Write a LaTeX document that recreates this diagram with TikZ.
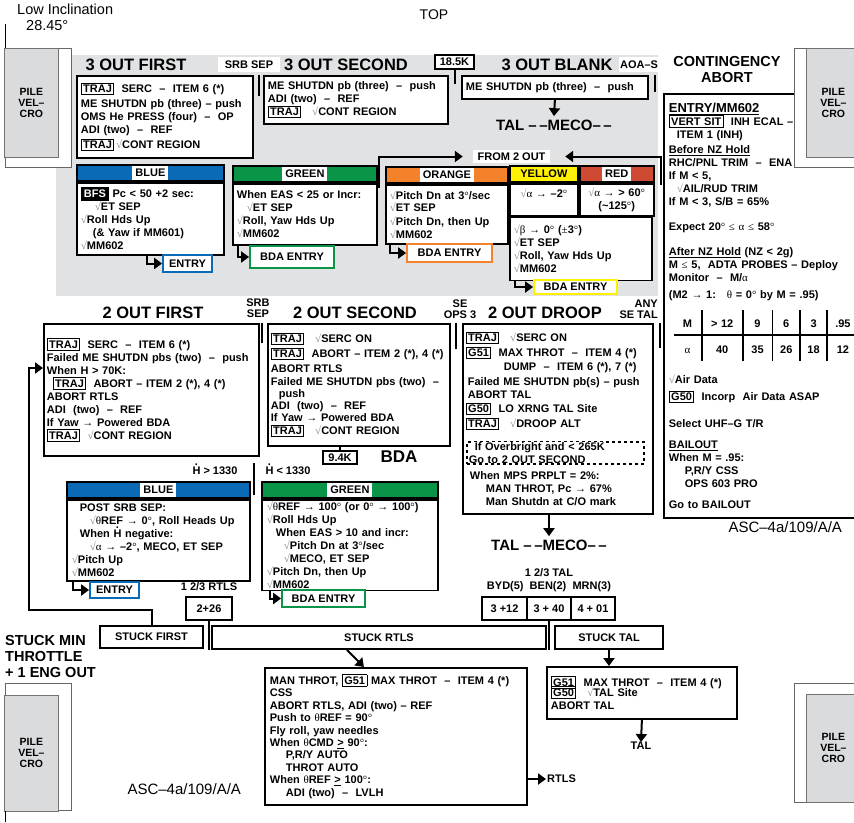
\documentclass[tikz,border=0pt]{standalone}
\usepackage{fontspec}
\setmainfont{Liberation Sans}
\newfontfamily\serf{Liberation Serif}
\usepackage{array}
\usetikzlibrary{arrows.meta,positioning}
\definecolor{bgC}{HTML}{E1E2E4}
\definecolor{blueC}{HTML}{0A6AB6}
\definecolor{greenC}{HTML}{0A9447}
\definecolor{orangeC}{HTML}{F4822A}
\definecolor{yellowC}{HTML}{FFF100}
\definecolor{redC}{HTML}{CF4A32}
\definecolor{velC}{HTML}{DADBDD}
\newcommand\tb[1]{{\setlength\fboxsep{1.5pt}\setlength\fboxrule{0.8pt}\fbox{#1}}}
\newcommand\ck{{\color{black!45}\serf\mdseries √}}
\newcommand\gk[1]{{\serf\mdseries #1}}
\newcommand\hdot{\leavevmode\rlap{\hspace{2.4pt}\raisebox{9pt}{.}}H}
\newcommand\wlab[1]{{\setlength\fboxsep{3pt}\colorbox{white}{#1}}}

\begin{document}
\begin{tikzpicture}[x=1pt,y=-1pt,
    body/.style={font=\bfseries\fontsize{11}{13}\selectfont},
    panel/.style={body,draw,line width=1.8pt,fill=white,anchor=north west,align=left,inner xsep=4pt,inner ysep=2pt},
    hdr/.style={body,draw,line width=1.8pt,anchor=north west,inner sep=0pt,minimum height=16pt},
    ttl/.style={font=\bfseries\fontsize{16.5}{18}\selectfont},
    tag/.style={body,inner sep=0pt},
    tagbox/.style={body,draw,line width=1.8pt,fill=white,inner sep=0pt},
    entbox/.style={body,draw=#1,line width=1.8pt,fill=white,inner sep=0pt},
    velo/.style={fill=velC,draw=black!55,line width=0.8pt,anchor=north west,align=center,font=\bfseries\fontsize{10.5}{11}\selectfont},
    velout/.style={draw=black!60,fill=white,line width=0.8pt},
    flow/.style={-{Triangle[length=8pt,width=11pt]},line width=2pt},
    sepline/.style={line width=2pt},
    dashbox/.style={body,draw,dash pattern=on 3pt off 3pt,line width=1.6pt,anchor=north west,align=left,inner xsep=2pt,inner ysep=0pt}]
\useasboundingbox (0,0) rectangle (854,822);

% grey band of the 3 out cases
\fill[bgC] (56,55) rectangle (658,296);

\node[anchor=north west,align=left,inner sep=0pt,font=\fontsize{14.5}{16}\selectfont] (incl) at (17,4) {Low Inclination\\\hspace*{9pt}28.45°};
\node[font=\fontsize{14}{16}\selectfont] (top) at (434,15) {TOP};

% 3 out
\node[ttl] (t3first) at (136,65) {3 OUT FIRST};
\node[ttl] (t3second) at (346,65) {3 OUT SECOND};
\node[ttl] (t3blank) at (557,65) {3 OUT BLANK};
\node[tag,fill=white,minimum width=62pt,minimum height=15pt] (srb1) at (249,64.5) {SRB SEP};
\node[tag,fill=white,minimum width=40pt,minimum height=15pt] (aoas) at (639,64.5) {AOA--S};
\node[tagbox,line width=1.4pt,minimum width=39pt,minimum height=14pt] (k185) at (454.5,62) {18.5K};

\node[panel,text width=168pt,minimum height=82pt] (p3first) at (76,75)
  {\tb{TRAJ}\ \ SERC\ \ –\ \ ITEM 6 (*)\\[2pt]
   ME SHUTDN pb (three) – push\\
   OMS He PRESS (four)\ \ –\ \ OP\\
   ADI (two)\ \ –\ \ REF\\[2pt]
   \tb{TRAJ}\,\ck CONT REGION};
\node[panel,text width=176pt,minimum height=48pt] (p3second) at (263,75)
  {ME SHUTDN pb (three)\ \ –\ \ push\\
   ADI (two)\ \ –\ \ REF\\
   \tb{TRAJ}\ \ \ \ck CONT REGION};
\node[panel,text width=178pt,minimum height=23pt] (p3blank) at (461,75)
  {ME SHUTDN pb (three)\ \ –\ \ push};
\node[font=\bfseries\fontsize{15}{17}\selectfont] (meco1) at (554,125) {TAL –\,–MECO–\,–};

\draw[sepline] ([xshift=5pt]p3first.north east) -- ++(0,21);
\draw[sepline] (k185.south) -- ++(0,14);
\draw[sepline] ([xshift=6pt]p3blank.north east) -- ++(0,17);
\draw[flow] (p3blank.south) -- (meco1.north);

% colour boxes
\node[hdr,fill=blueC,minimum width=147pt] (b1h) at (76,164) {\wlab{BLUE}};
\node[panel,text width=139pt,minimum height=72pt] (b1) at (b1h.south west)
  {\colorbox{black}{\color{white}BFS}\ Pc < 50 +2 sec:\\
   \hspace*{14pt}\ck ET SEP\\
   \ck Roll Hds Up\\
   \hspace*{12pt}(\& Yaw if MM601)\\
   \ck MM602};
\node[entbox=blueC,minimum width=49pt,minimum height=17pt] (ent1) at (187.5,263.5) {ENTRY};
\draw[flow] ([xshift=71pt]b1.south west) |- (ent1.west);

\node[hdr,fill=greenC,minimum width=144pt] (g1h) at (232,165) {\wlab{GREEN}};
\node[panel,text width=136pt,minimum height=61pt] (g1) at (g1h.south west)
  {When EAS < 25 or Incr:\\
   \hspace*{10pt}\ck ET SEP\\
   \ck Roll, Yaw Hds Up\\
   \ck MM602};
\node[entbox=greenC,minimum width=84pt,minimum height=22pt] (bda1) at (292,257) {BDA ENTRY};
\draw[flow] ([xshift=6pt]g1.south west) |- (bda1.west);

\node[hdr,fill=orangeC,minimum width=122pt] (oh) at (385,166) {\wlab{ORANGE}};
\node[panel,text width=114pt,minimum height=59pt] (o1) at (oh.south west)
  {\ck Pitch Dn at 3\gk{°}/sec\\
   \ck ET SEP\\
   \ck Pitch Dn, then Up\\
   \ck MM602};
\node[entbox=orangeC,minimum width=85pt,minimum height=18pt] (bda2) at (449.5,253) {BDA ENTRY};
\draw[flow] ([xshift=5pt]o1.south west) |- (bda2.west);

\node[hdr,fill=yellowC,minimum width=68pt] (yh) at (509,165) {YELLOW};
\node[hdr,fill=redC,minimum width=74pt] (rh) at (yh.north east) {\wlab{RED}};
\node[panel,align=center,text width=60pt,minimum height=32pt] (yc) at (yh.south west)
  {\ck\gk{α →} –2\gk{°}\\\mbox{}};
\node[panel,align=center,text width=66pt,minimum height=32pt] (rc) at (rh.south west)
  {\ck\gk{α →} > 60\gk{°}\\(\textasciitilde125\gk{°})};
\node[panel,text width=134pt,minimum height=63pt] (yl) at (yc.south west)
  {\ck\gk{β →} 0\gk{°} (\gk{±}3\gk{°})\\
   \ck ET SEP\\
   \ck Roll, Yaw Hds Up\\
   \ck MM602};
\node[entbox=yellowC,minimum width=83pt,minimum height=14pt] (bda3) at (575.5,287) {BDA ENTRY};
\draw[flow] ([xshift=6pt]yl.south west) |- (bda3.west);

\node[tag,fill=white,minimum width=77pt,minimum height=13pt] (from2) at (511.5,156.5) {FROM 2 OUT};
\draw[flow] ([xshift=-6pt,yshift=-22pt]oh.north west) |- ([xshift=-10pt]from2.west);
\draw[flow] ([xshift=6pt,yshift=-20pt]rh.north east) |- ([xshift=15pt]from2.east);

% contingency abort
\node[font=\bfseries\fontsize{14.5}{16}\selectfont,align=center] (conttl) at (727,70) {CONTINGENCY\\ABORT};
\node[panel,text width=185pt,minimum height=424pt,inner xsep=5pt] (cont) at (663,93)
  {{\fontsize{13}{15}\selectfont\underline{ENTRY/MM602}}\\
   \tb{VERT SIT}\ \ INH ECAL –\\
   \hspace*{8pt}ITEM 1 (INH)\\[2pt]
   \underline{Before NZ Hold}\\
   RHC/PNL TRIM\ \ –\ \ ENA\\
   If M < 5,\\
   \hspace*{8pt}\ck AIL/RUD TRIM\\
   If M < 3, S/B = 65\%\\[12pt]
   Expect 20\gk{° ≤ α ≤} 58\gk{°}\\[12pt]
   \underline{After NZ Hold} (NZ < 2g)\\
   M \gk{≤} 5,\ \ ADTA PROBES – Deploy\\
   Monitor\ \ –\ \ M/\gk{α}\\[4pt]
   (M2 \gk{→} 1:\ \ \ \gk{θ} = 0\gk{°} by M = .95)\\[8pt]
   \hspace*{5pt}{\setlength\arrayrulewidth{1.8pt}\setlength\tabcolsep{0pt}\renewcommand\arraystretch{1.9}%
   \begin{tabular}{@{}w{c}{27pt}|w{c}{39pt}|w{c}{28pt}|w{c}{26pt}|w{c}{25pt}|w{c}{30pt}@{}}
   M & > 12 & 9 & 6 & 3 & .95\\\hline
   \gk{α} & 40 & 35 & 26 & 18 & 12
   \end{tabular}}\\[13pt]
   \ck Air Data\\[4pt]
   \tb{G50}\ \ Incorp\ \ Air Data ASAP\\[14pt]
   Select UHF–G T/R\\[8pt]
   \underline{BAILOUT}\\
   When M = .95:\\
   \hspace*{16pt}P,R/Y CSS\\
   \hspace*{16pt}OPS 603 PRO\\[8pt]
   Go to BAILOUT};
\node[anchor=west,font=\fontsize{15}{17}\selectfont] (asc1) at (725,527) {ASC–4a/109/A/A};

% velcro pads
\draw[velout] (5,48) rectangle (71,167);
\node[velo,minimum width=54pt,minimum height=109pt] (velTL) at (4,48) {PILE\\VEL--\\CRO};
\draw[line width=0.8pt] (5,24) -- (5,48);
\draw[velout] (794,48) rectangle (870,167);
\node[velo,minimum width=54pt,minimum height=109pt] (velTR) at (806,48) {PILE\\VEL--\\CRO};
\draw[velout] (5,683) rectangle (71,810);
\node[velo,minimum width=54pt,minimum height=116pt] (velBL) at (4,695) {PILE\\VEL--\\CRO};
\draw[line width=0.8pt] (5,811) -- (5,822);
\draw[velout] (794,683) rectangle (870,802);
\node[velo,minimum width=54pt,minimum height=108pt] (velBR) at (806,694) {PILE\\VEL--\\CRO};

% 2 out
\node[ttl] (t2first) at (153,313) {2 OUT FIRST};
\node[ttl] (t2second) at (355,313) {2 OUT SECOND};
\node[ttl] (t2droop) at (545,313) {2 OUT DROOP};
\node[tag,align=center,font=\bfseries\fontsize{11}{11}\selectfont] (srb2) at (258,308) {SRB\\SEP};
\node[tag,align=center,font=\bfseries\fontsize{11}{11}\selectfont] (seops) at (460,309) {SE\\OPS 3};
\node[tag,align=right,anchor=east,font=\bfseries\fontsize{11}{11}\selectfont] (anyse) at (658,309) {ANY\\SE TAL};

\node[panel,text width=209pt,inner xsep=3pt,minimum height=132pt] (p4) at (43,323)
  {\tb{TRAJ}\ \ SERC\ \ –\ \ ITEM 6 (*)\\
   Failed ME SHUTDN pbs (two)\ \ –\ \ push\\
   When H > 70K:\\
   \hspace*{6pt}\tb{TRAJ}\ \ ABORT – ITEM 2 (*), 4 (*)\\
   ABORT RTLS\\
   ADI\ \ (two)\ \ –\ \ REF\\
   If Yaw \gk{→} Powered BDA\\
   \tb{TRAJ}\ \ \ck CONT REGION};
\node[panel,text width=176pt,inner xsep=3pt,minimum height=122pt] (p5) at (267,323)
  {\tb{TRAJ}\ \ \ \ck SERC ON\\[2pt]
   \tb{TRAJ}\ \ ABORT – ITEM 2 (*), 4 (*)\\[2pt]
   ABORT RTLS\\
   Failed ME SHUTDN pbs (two)\ \ –\\[-1pt]
   \hspace*{8pt}push\\[-1pt]
   ADI\ \ (two)\ \ –\ \ REF\\[-1pt]
   If Yaw \gk{→} Powered BDA\\
   \tb{TRAJ}\ \ \ \ck CONT REGION};
\node[panel,text width=184pt,inner xsep=3pt,minimum height=190pt] (p6) at (462,323)
  {\tb{TRAJ}\ \ \ \ck SERC ON\\[2pt]
   \tb{G51}\ \ MAX THROT\ \ –\ \ ITEM 4 (*)\\[1pt]
   \hspace*{38pt}DUMP\ \ –\ \ ITEM 6 (*), 7 (*)\\[2pt]
   \hspace*{2pt}Failed ME SHUTDN pb(s)\ –\ push\\
   \hspace*{2pt}ABORT TAL\\[1pt]
   \tb{G50}\ \ LO XRNG TAL Site\\[2pt]
   \tb{TRAJ}\ \ \ \ck DROOP ALT\\[39pt]
   \hspace*{4pt}When MPS PRPLT = 2\%:\\
   \hspace*{20pt}MAN THROT, Pc \gk{→} 67\%\\
   \hspace*{20pt}Man Shutdn at C/O mark};
\node[dashbox,text width=173pt] (ovb) at (466,441)
  {\hspace*{5pt}{\setlength\fboxsep{1pt}\colorbox{white}{If Overbright and < 265K}}\\Go to 2 OUT SECOND};
\node[font=\bfseries\fontsize{15}{17}\selectfont] (meco2) at (549,545) {TAL –\,–MECO–\,–};
\node[tagbox,line width=1.4pt,minimum width=34pt,minimum height=13pt] (k94) at (340,457.5) {9.4K};
\node[font=\bfseries\fontsize{17}{19}\selectfont] (bda) at (399,457) {BDA};

\draw[sepline] ([xshift=-5pt]p5.north west) -- ++(0,20);
\draw[sepline] ([xshift=5pt]p5.north east) -- ++(0,26);
\draw[sepline] ([xshift=6pt]p6.north east) -- ++(0,25);
\draw[sepline] (p5.south -| k94) -- (k94.north);
\draw[flow] (p6.south -| meco2.north) -- (meco2.north);

% after SRB sep
\node[tag] (hgt) at (215,469) {\hdot\ > 1330};
\node[tag] (hlt) at (288,469) {\hdot\ < 1330};

\node[hdr,fill=blueC,minimum width=183pt] (b2h) at (66,481) {\wlab{BLUE}};
\node[panel,text width=173pt,inner xsep=5pt,minimum height=81pt] (b2) at (b2h.south west)
  {\hspace*{8pt}POST SRB SEP:\\
   \hspace*{18pt}\ck\gk{θ}REF \gk{→} 0\gk{°}, Roll Heads Up\\
   \hspace*{8pt}When \hdot\ negative:\\
   \hspace*{18pt}\ck\gk{α →} –2\gk{°}, MECO, ET SEP\\
   \ck Pitch Up\\
   \ck MM602};
\node[entbox=blueC,minimum width=49pt,minimum height=16pt] (ent2) at (114.5,590) {ENTRY};
\draw[flow] ([xshift=7pt]b2.south west) |- (ent2.west);

\node[hdr,fill=greenC,minimum width=176pt] (g2h) at (261,481) {\wlab{GREEN}};
\node[panel,text width=166pt,inner xsep=5pt,minimum height=89pt] (g2) at (g2h.south west)
  {\ck\gk{θ}REF \gk{→} 100\gk{°} (or 0\gk{°} \gk{→} 100\gk{°})\\
   \ck Roll Hds Up\\
   \hspace*{9pt}When EAS > 10 and incr:\\
   \hspace*{17pt}\ck Pitch Dn at 3\gk{°}/sec\\
   \hspace*{17pt}\ck MECO, ET SEP\\
   \ck Pitch Dn, then Up\\
   \ck MM602};
\node[entbox=greenC,minimum width=83pt,minimum height=17pt] (bda4) at (323.5,598.5) {BDA ENTRY};
\draw[flow] ([xshift=9pt]g2.south west) |- (bda4.west);
\draw[sepline] ([xshift=-7pt,yshift=18pt]g2h.north west) -- ++(0,32);

% stuck throttle
\node[tag] (rtls23) at (209,587) {1 2/3 RTLS};
\node[tagbox,minimum width=46pt,minimum height=23pt] (t226) at (209,608.5) {2+26};
\node[tag,align=center] (tal23) at (549,580) {1 2/3 TAL\\BYD(5)\ \ BEN(2)\ \ MRN(3)};
\node[tagbox,minimum width=45pt,minimum height=23pt] (t312) at (504.5,608.5) {3 +12};
\node[tagbox,minimum width=44pt,minimum height=23pt] (t340) at (549,608.5) {3 + 40};
\node[tagbox,minimum width=44pt,minimum height=23pt] (t401) at (593,608.5) {4 + 01};

\node[tagbox,minimum width=103pt,minimum height=22pt] (sfirst) at (151.5,637) {STUCK FIRST};
\node[tagbox,minimum width=334pt,minimum height=23pt] (srtls) at (379,637.5) {STUCK RTLS};
\node[tagbox,minimum width=108pt,minimum height=23pt] (stal) at (609,637.5) {STUCK TAL};
\draw[sepline] (t226.south) -- (t226.south |- srtls.south);
\draw[sepline] (t340.south) -- (t340.south |- stal.south);

\node[anchor=north west,align=left,inner sep=0pt,font=\bfseries\fontsize{14.5}{16}\selectfont] (stuckmin) at (5,635) {STUCK MIN\\THROTTLE\\+ 1 ENG OUT};

\coordinate (lp) at (29,368);
\draw[flow] (sfirst.north) -- ++(0,-15) -| (lp) -- (lp -| p4.west);

\node[panel,text width=252pt,inner xsep=5pt,minimum height=137pt,font=\bfseries\fontsize{11}{12.4}\selectfont] (rtlsb) at (264,667)
  {MAN THROT, \tb{G51} MAX THROT\ \ –\ \ ITEM 4 (*)\\
   CSS\\
   ABORT RTLS, ADI (two) – REF\\
   Push to \gk{θ}REF = 90\gk{°}\\
   Fly roll, yaw needles\\
   When \gk{θ}CMD \underline{>} 90\gk{°}:\\
   \hspace*{16pt}P,R/Y AUTO\\
   \hspace*{16pt}THROT AUTO\\
   When \gk{θ}REF \underline{>} 100\gk{°}:\\
   \hspace*{16pt}ADI (two)\ \ –\ \ LVLH};
\node[tag,anchor=west,inner sep=1pt] (rtlslbl) at (546,779) {RTLS};
\draw[flow] ([xshift=-32pt]srtls.south) -- ([xshift=-32pt]rtlsb.north);
\draw[flow] (rtlsb.east |- rtlslbl) -- (rtlslbl.west);

\node[panel,text width=182pt,minimum height=52pt] (talb) at (546,666)
  {\tb{G51}\ \ MAX THROT\ \ –\ \ ITEM 4 (*)\\[-3pt]
   \tb{G50}\ \ \ \ck TAL Site\\
   ABORT TAL};
\node[tag] (tallbl) at (641,746) {TAL};
\draw[flow] (stal.south) -- (stal.south |- talb.north);
\draw[flow] (talb.south) -- (tallbl.north);

\node[anchor=west,font=\fontsize{15}{17}\selectfont] (asc2) at (124,789) {ASC–4a/109/A/A};
\end{tikzpicture}
\end{document}
